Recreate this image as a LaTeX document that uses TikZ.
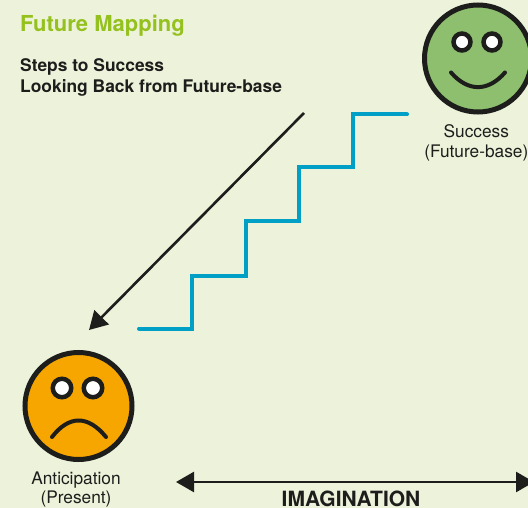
\documentclass[tikz,border=0pt]{standalone}
\usepackage{fontspec}
\setmainfont{TeX Gyre Heros}
\usetikzlibrary{arrows.meta}
\definecolor{paper}{HTML}{EDF3DB}
\definecolor{ink}{HTML}{1D1D1B}
\definecolor{titlegreen}{HTML}{95C11F}
\definecolor{happygreen}{HTML}{8DBF6E}
\definecolor{sadorange}{HTML}{F7A600}
\definecolor{stairblue}{HTML}{009FC6}
\begin{document}
\begin{tikzpicture}[
		x=1pt, y=-1pt,
		face/.style	={ circle, draw=ink, line width=5pt, minimum size=107pt, inner sep=0pt },
		eye/.style	={ circle, draw=ink, fill=white, line width=4.5pt, minimum size=17pt, inner sep=0pt },
		mouth/.style	={ draw=ink, line width=4pt, line cap=round },
		stairs/.style	={ draw=stairblue, line width=4pt, line cap=round, line join=miter },
		pointer/.style	={ draw=ink, line width=2.6pt, -{Triangle[length=18pt,width=20pt]} },
		span/.style	={ draw=ink, line width=2.6pt, {Triangle[length=18pt,width=20pt]}-{Triangle[length=18pt,width=20pt]} },
		label/.style	={ text=ink, font=\fontsize{17.3}{19.8}\selectfont, align=center, inner sep=0pt },
		heading/.style	={ text=ink, font=\bfseries\fontsize{17.4}{21}\selectfont, align=left, inner sep=0pt, anchor=north west },
	]
	
	% background and page edge
	\clip (0,0) rectangle (528,508);
	\fill [paper] (0,0) rectangle (528,508);
	
	% draw faces
	\node [face, fill=happygreen] (success) at (478,58.5) {};
	\node [face, fill=sadorange] (anticipation) at (78.5,406) {};
	
	% draw eyes
	\foreach \x/\y/\n/\s in {462/42/1/17, 492/42/2/17, 62/388/3/18.5, 93/388/4/18.5}
		\node [eye, minimum size=\s pt] (eye_\n) at (\x,\y) {};
	
	% draw mouths
	\draw [mouth] (451,72.5) .. controls (468,92) and (488,92) .. (505,72.5);
	\draw [mouth] (52,437) .. controls (69,415) and (88,415) .. (106,437);
	
	% draw texts
	\node [text=titlegreen, font=\bfseries\fontsize{22}{26}\selectfont, inner sep=0pt, anchor=base west] (title) at (20,31.5) {Future Mapping};
	\node [heading] (steps) at (20,58) {Steps to Success\\Looking Back from Future-base};
	\node [label] (success_label) at (476.3,142.5) {Success\\(Future-base)};
	\node [label] (anticipation_label) at (76,489.5) {Anticipation\\(Present)};
	\node [text=ink, font=\bfseries\fontsize{21}{24}\selectfont, inner sep=0pt, anchor=base] (imagination) at (351,506) {IMAGINATION};
	
	% draw stairs
	\coordinate (stairs_start) at (139,328.5);
	\coordinate (stairs_end) at (407,114.5);
	\draw [stairs] (stairs_start) -| (192,275.5) -| (246,221.5) -| (299,167.5) -| (353,114.5) -- (stairs_end);
	
	% draw arrows
	\coordinate (back_start) at (304,113);
	\coordinate (back_end) at (89,330);
	\draw [pointer] (back_start) -- (back_end);
	\coordinate (span_left) at (176,482);
	\coordinate (span_right) at (534,482);
	\draw [span] (span_left) -- (span_right);
	
\end{tikzpicture}
\end{document}
